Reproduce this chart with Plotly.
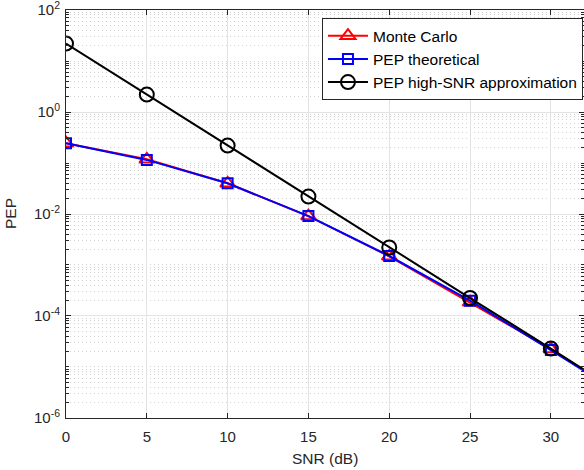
import plotly.graph_objects as go

# SNR grid (dB)
snr_db = [0, 5, 10, 15, 20, 25, 30, 35]

# Pairwise error probability curves
pep_monte_carlo = [0.245, 0.118, 0.040, 0.0091, 0.00148, 1.85e-4, 2.25e-5, 2.2e-6]
pep_theoretical = [0.243, 0.115, 0.040, 0.0091, 0.00150, 2.0e-4, 2.15e-5, 2.15e-6]
pep_high_snr = [22.0, 2.2, 0.22, 0.022, 0.0022, 2.25e-4, 2.3e-5, 2.25e-6]

x_ticks = [0, 5, 10, 15, 20, 25, 30]
y_major = [1e-6, 1e-4, 1e-2, 1e0, 1e2]
y_major_text = ["10<sup>-6</sup>", "10<sup>-4</sup>", "10<sup>-2</sup>",
                "10<sup>0</sup>", "10<sup>2</sup>"]

y_minor = []
for e in range(-6, 2):
    for m in range(2, 10):
        y_minor.append(m * 10.0 ** e)
    if e % 2 != 0:
        y_minor.append(10.0 ** e)

FONT = "Liberation Sans, Arial, Helvetica, sans-serif"
AXIS_COLOR = "#262626"

fig = go.Figure()

fig.add_trace(go.Scatter(
    x=snr_db, y=pep_monte_carlo, mode="lines+markers", name="Monte Carlo",
    line=dict(color="#ff0000", width=2),
    marker=dict(symbol="triangle-up-open", size=13, color="#ff0000",
                line=dict(width=2, color="#ff0000")),
))
fig.add_trace(go.Scatter(
    x=snr_db, y=pep_theoretical, mode="lines+markers", name="PEP theoretical",
    line=dict(color="#0000ff", width=2),
    marker=dict(symbol="square-open", size=10, color="#0000ff",
                line=dict(width=2, color="#0000ff")),
))
fig.add_trace(go.Scatter(
    x=snr_db, y=pep_high_snr, mode="lines+markers", name="PEP high-SNR approximation",
    line=dict(color="#000000", width=2),
    marker=dict(symbol="circle-open", size=14, color="#000000",
                line=dict(width=2, color="#000000")),
))

# axis titles placed as annotations for exact positioning
fig.add_annotation(text="SNR (dB)", xref="paper", yref="paper",
                   x=0.5, y=0, yshift=-40, xanchor="center", yanchor="middle",
                   showarrow=False, font=dict(size=15.5, color=AXIS_COLOR))
fig.add_annotation(text="PEP", xref="paper", yref="paper",
                   x=0, y=0.5, xshift=-56, xanchor="center", yanchor="middle",
                   textangle=-90, showarrow=False,
                   font=dict(size=15.5, color=AXIS_COLOR))

fig.update_layout(
    width=584, height=470,
    margin=dict(l=66, r=0, t=10, b=52, autoexpand=False),
    paper_bgcolor="white", plot_bgcolor="white",
    font=dict(family=FONT, size=15, color=AXIS_COLOR),
    showlegend=True,
    legend=dict(
        x=0.998, y=0.98, xanchor="right", yanchor="top",
        bgcolor="white", bordercolor=AXIS_COLOR, borderwidth=1,
        font=dict(family=FONT, size=15.5, color="#000000"),
        tracegroupgap=0, itemwidth=40,
    ),
    xaxis=dict(
        range=[0, 32.05], tickvals=x_ticks, automargin=False,
        showline=True, linecolor=AXIS_COLOR, linewidth=1, mirror="ticks",
        ticks="inside", ticklen=5, tickcolor=AXIS_COLOR,
        showgrid=True, gridcolor="#e3e3e3", gridwidth=1,
        zeroline=False, ticklabelstandoff=5,
        tickfont=dict(size=15),
    ),
    yaxis=dict(
        type="log", range=[-6.0005, 2.0005], automargin=False,
        tickvals=y_major, ticktext=y_major_text,
        showline=True, linecolor=AXIS_COLOR, linewidth=1, mirror="ticks",
        ticks="inside", ticklen=5, tickcolor=AXIS_COLOR,
        showgrid=True, gridcolor="#e3e3e3", gridwidth=1,
        zeroline=False, ticklabelstandoff=2, ticklabeloverflow="allow",
        minor=dict(tickvals=y_minor, ticks="inside", ticklen=3,
                   tickcolor=AXIS_COLOR, showgrid=True,
                   gridcolor="#d2d2d2", gridwidth=1, griddash="1px,3px"),
        tickfont=dict(size=15),
    ),
)

fig.write_html("out.html")
